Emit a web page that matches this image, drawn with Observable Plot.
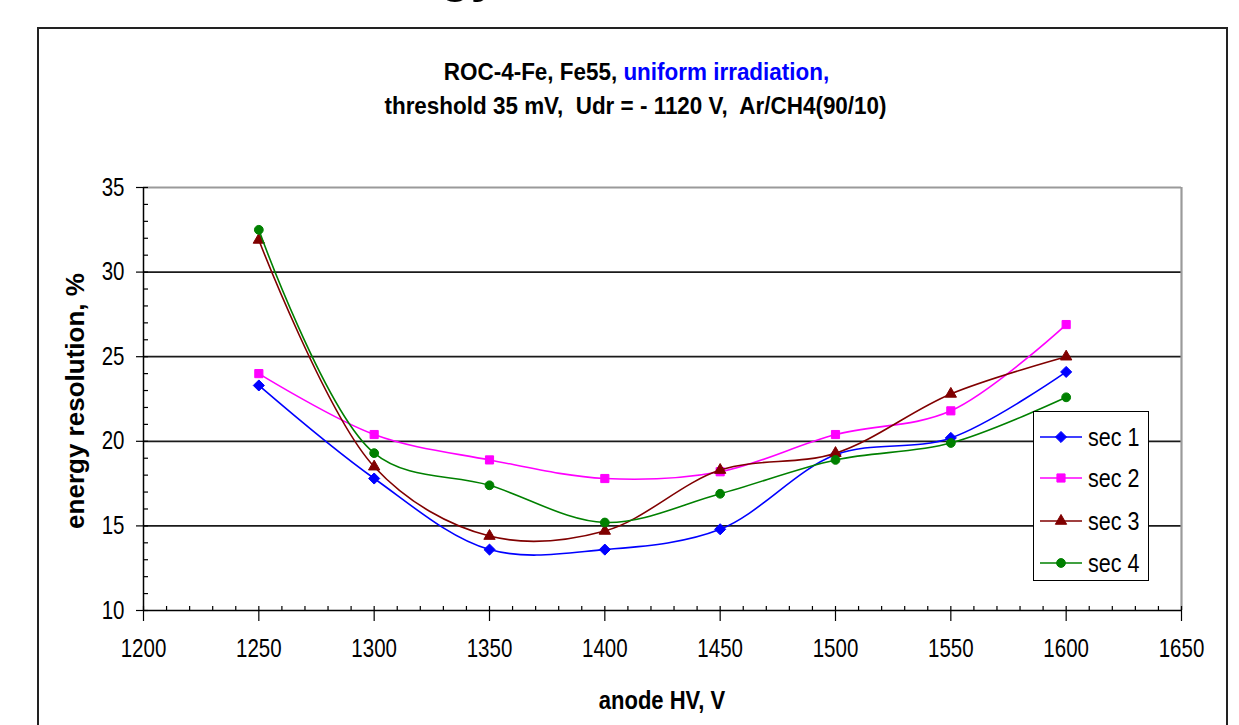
<!DOCTYPE html>
<html>
<head>
<meta charset="utf-8">
<script src="https://cdn.jsdelivr.net/npm/d3@7"></script>
<script src="https://cdn.jsdelivr.net/npm/@observablehq/plot@0.6"></script>
<style>
  body { margin: 0; background: #fff; }
  #wrap { position: relative; width: 1239px; height: 725px; overflow: hidden; background: #fff; }
  .abs { position: absolute; }
</style>
</head>
<body>
<div id="wrap"></div>
<script>
// ---- data ----
const hv = [1250, 1300, 1350, 1400, 1450, 1500, 1550, 1600];
const sec1 = [23.3, 17.8, 13.6, 13.6, 14.8, 19.2, 20.2, 24.1];
const sec2 = [24.0, 20.4, 18.9, 17.8, 18.2, 20.4, 21.8, 26.9];
const sec3 = [31.9, 18.5, 14.4, 14.7, 18.3, 19.3, 22.8, 25.0];
const sec4 = [32.5, 19.3, 17.4, 15.2, 16.9, 18.9, 19.9, 22.6];
const seriesNames = ["sec 1", "sec 2", "sec 3", "sec 4"];
const seriesColors = ["#0000ff", "#ff00ff", "#800000", "#008000"];
const seriesSymbols = ["diamond2", "square", "triangle", "circle"];
const seriesR = [5, 4.6, 4.2, 4.4];
const xTicks = [1200, 1250, 1300, 1350, 1400, 1450, 1500, 1550, 1600, 1650];
const yTicks = [10, 15, 20, 25, 30, 35];
const gridY = [15, 20, 25, 30];
const xMinor = d3.range(1200, 1651, 10);
const yMinor = d3.range(10, 36, 1);
const titleLine1a = "ROC-4-Fe, Fe55, ";
const titleLine1b = "uniform irradiation,";
const titleLine2 = "threshold 35 mV,\u00a0 Udr = - 1120 V,\u00a0 Ar/CH4(90/10)";
const xLabel = "anode HV, V";
const yLabel = "energy resolution, %";
const topFragment = "Energy resolution";

// ---- fonts: Liberation Sans, condensed horizontally where the reference is narrow ----
const FONT = '"Liberation Sans", Arial, sans-serif';
const SX_TICK = 0.82, SX_TITLE = 0.955, SX_XLAB = 0.88, SX_LEG = 0.86;

// ---- geometry ----
const W = 1239, H = 725;
const mL = 143, mR = 58, mT = 187, mB = 115;
const pw = W - mL - mR, ph = H - mT - mB;

const rows = [sec1, sec2, sec3, sec4].map((vals, i) =>
  hv.map((x, j) => ({ hv: x, res: vals[j], sec: seriesNames[i] })));

const seriesMarks = rows.flatMap((r, i) => [
  Plot.line(r, { x: "hv", y: "res", stroke: seriesColors[i], strokeWidth: 1.6, curve: "catmull-rom" }),
  Plot.dot(r, { x: "hv", y: "res", symbol: seriesSymbols[i], fill: seriesColors[i], stroke: seriesColors[i], strokeWidth: 1, r: seriesR[i] })
]);

const chart = Plot.plot({
  width: W, height: H,
  marginLeft: mL, marginRight: mR, marginTop: mT, marginBottom: mB,
  style: { fontFamily: FONT, fontSize: "25px", color: "#000", background: "transparent", overflow: "visible" },
  x: { domain: [1200, 1650] },
  y: { domain: [10, 35] },
  marks: [
    Plot.ruleY(gridY, { stroke: "#1a1a1a", strokeWidth: 1.8 }),
    Plot.ruleY([35], { stroke: "#9a9a9a", strokeWidth: 2.2 }),
    Plot.ruleX([1650], { stroke: "#9a9a9a", strokeWidth: 2.2 }),
    Plot.ruleY(yMinor, { stroke: "#000", strokeWidth: 1.2, insetRight: pw - 5 }),
    Plot.ruleX(xMinor, { stroke: "#000", strokeWidth: 1.2, insetTop: ph - 4 }),
    Plot.axisY({ ticks: yTicks, tickSize: 7, tickPadding: 12, label: null, tickFormat: d => String(d), strokeWidth: 1.2, fontSize: 25 }),
    Plot.axisX({ ticks: xTicks, tickSize: 11, tickPadding: 18, label: null, tickFormat: d => String(d), strokeWidth: 1.2, fontSize: 25 }),
    Plot.ruleY([10], { stroke: "#000", strokeWidth: 1.5 }),
    Plot.ruleX([1200], { stroke: "#000", strokeWidth: 1.5 }),
    ...seriesMarks
  ]
});

// condense tick labels horizontally (style only)
chart.querySelectorAll('g[aria-label$="tick label"] text').forEach(t => {
  const tr = t.getAttribute("transform");
  if (tr) {
    t.setAttribute("transform", tr + ` scale(${SX_TICK},1)`);
  } else {
    const x = +t.getAttribute("x") || 0;
    const y = t.getAttribute("y");
    const numY = y && !/em$/.test(y) ? +y : 0;
    t.removeAttribute("x");
    if (y && !/em$/.test(y)) t.removeAttribute("y");
    t.setAttribute("transform", `translate(${x},${numY}) scale(${SX_TICK},1)`);
  }
});

const wrap = document.getElementById("wrap");
chart.style.position = "absolute";
chart.style.left = "0px";
chart.style.top = "0px";
wrap.appendChild(chart);

function addDiv(css) {
  const d = document.createElement("div");
  d.className = "abs";
  Object.assign(d.style, css);
  wrap.appendChild(d);
  return d;
}

// top cut-off fragment (cropped in the reference as well)
const frag = addDiv({ left: "329px", top: "-50px", font: 'bold 50px "Liberation Sans", Arial, sans-serif', whiteSpace: "nowrap", lineHeight: "50px", color: "#000" });
frag.textContent = topFragment;

// outer frame
addDiv({ left: "37px", top: "27px", width: "1191px", height: "740px", border: "2px solid #222", boxSizing: "border-box", pointerEvents: "none" });

// titles
const t1 = addDiv({ left: "17px", top: "57px", width: W + "px", textAlign: "center", fontFamily: FONT, fontWeight: "bold", fontSize: "23.5px", lineHeight: "30px", color: "#000", whiteSpace: "nowrap", transform: `scaleX(${SX_TITLE})`, transformOrigin: "50% 50%" });
const s1 = document.createElement("span"); s1.textContent = titleLine1a;
const s2 = document.createElement("span"); s2.textContent = titleLine1b; s2.style.color = "#0000ff";
t1.appendChild(s1); t1.appendChild(s2);
const t2 = addDiv({ left: "16px", top: "91px", width: W + "px", textAlign: "center", fontFamily: FONT, fontWeight: "bold", fontSize: "23.5px", lineHeight: "30px", color: "#000", whiteSpace: "pre", transform: `scaleX(${SX_TITLE})`, transformOrigin: "50% 50%" });
t2.textContent = titleLine2;

// axis titles
const xl = addDiv({ left: "562px", top: "686px", width: "200px", textAlign: "center", fontFamily: FONT, fontWeight: "bold", fontSize: "25px", lineHeight: "28px", color: "#000", whiteSpace: "nowrap", transform: `scaleX(${SX_XLAB})`, transformOrigin: "50% 50%" });
xl.textContent = xLabel;
const yl = addDiv({ left: "-125px", top: "386px", width: "400px", textAlign: "center", fontFamily: FONT, fontWeight: "bold", fontSize: "26px", lineHeight: "30px", color: "#000", whiteSpace: "nowrap", transform: "rotate(-90deg)", transformOrigin: "50% 50%" });
yl.textContent = yLabel;

// legend
const leg = addDiv({ left: "1033px", top: "411px", width: "116px", height: "170px", border: "1.5px solid #000", boxSizing: "border-box", background: "#fff" });
const legYs = [25, 66, 109, 151];
const symMap = { diamond2: d3.symbolDiamond2, square: d3.symbolSquare, triangle: d3.symbolTriangle, circle: d3.symbolCircle };
seriesNames.forEach((name, i) => {
  const ns = "http://www.w3.org/2000/svg";
  const svg = document.createElementNS(ns, "svg");
  svg.setAttribute("width", "46"); svg.setAttribute("height", "20");
  svg.style.position = "absolute"; svg.style.left = "6px"; svg.style.top = (legYs[i] - 10) + "px";
  const ln = document.createElementNS(ns, "line");
  ln.setAttribute("x1", 0); ln.setAttribute("x2", 42); ln.setAttribute("y1", 10); ln.setAttribute("y2", 10);
  ln.setAttribute("stroke", seriesColors[i]); ln.setAttribute("stroke-width", 1.6);
  svg.appendChild(ln);
  const p = document.createElementNS(ns, "path");
  p.setAttribute("d", d3.symbol(symMap[seriesSymbols[i]], Math.PI * seriesR[i] * seriesR[i])());
  p.setAttribute("transform", "translate(21,10)");
  p.setAttribute("fill", seriesColors[i]); p.setAttribute("stroke", seriesColors[i]);
  svg.appendChild(p);
  leg.appendChild(svg);
  const tx = document.createElement("div");
  tx.textContent = name;
  Object.assign(tx.style, { position: "absolute", left: "54px", top: (legYs[i] - 15) + "px", fontFamily: FONT, fontSize: "25px", lineHeight: "30px", color: "#000", whiteSpace: "nowrap", transform: `scaleX(${SX_LEG})`, transformOrigin: "0% 50%" });
  leg.appendChild(tx);
});
</script>
</body>
</html>
